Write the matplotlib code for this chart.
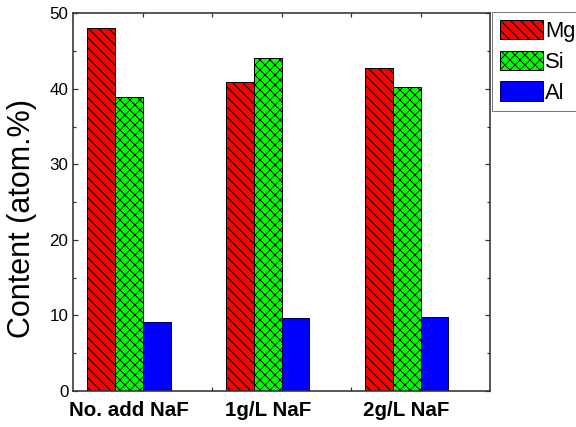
import matplotlib
matplotlib.use("Agg")
import matplotlib.pyplot as plt
import numpy as np
from matplotlib.ticker import FixedLocator, MultipleLocator

# ---- data ----
categories = ["No. add NaF", "1g/L NaF", "2g/L NaF"]
series_names = ["Mg", "Si", "Al"]
mg_values = [48.0, 40.9, 42.8]
si_values = [38.9, 44.1, 40.3]
al_values = [9.2, 9.7, 9.8]

DPI = 60
PT = 72.0 / DPI  # points per pixel

plt.rcParams['font.family'] = ['Liberation Sans', 'DejaVu Sans']
plt.rcParams['hatch.linewidth'] = 0.9 * PT

fig = plt.figure(figsize=(576 / DPI, 427 / DPI), dpi=DPI)
ax = fig.add_axes([73.3 / 576, 1 - 391 / 427, (490 - 73.3) / 576, (391 - 13.3) / 427])

x = np.arange(len(categories))
w = 0.2
vals = [mg_values, si_values, al_values]
faces = ['#FF0000', '#00FF00', '#0000FF']
edges = ['#000000', '#000000', '#00005A']
hatches = ['\\\\', 'xx', None]
for i, (v, name) in enumerate(zip(vals, series_names)):
    ax.bar(x + (i - 1) * w, v, width=w, color=faces[i], edgecolor=edges[i],
           hatch=hatches[i], linewidth=1.0 * PT, label=name, zorder=2)

ax.set_xlim(-0.4, 2.6)
ax.set_ylim(0, 50)
ax.set_axisbelow(True)

ax.set_xticks(x)
ax.set_xticklabels(categories, fontsize=20.5 * PT, fontweight='bold')
ax.xaxis.set_minor_locator(FixedLocator([0.1, 0.6, 1.1, 1.6, 2.1]))
ax.tick_params(axis='x', which='major', length=0, pad=10 * PT)
ax.tick_params(axis='x', which='minor', direction='in', length=4 * PT,
               width=1.2 * PT, top=True, bottom=True, color='#333333')

ax.yaxis.set_major_locator(MultipleLocator(10))
ax.yaxis.set_minor_locator(MultipleLocator(5))
ax.tick_params(axis='y', which='major', direction='in', length=5 * PT,
               width=1.2 * PT, left=True, right=True, labelsize=17 * PT,
               pad=5 * PT, color='#333333')
ax.tick_params(axis='y', which='minor', direction='in', length=3 * PT,
               width=1.2 * PT, left=True, right=True, color='#333333')

for s in ax.spines.values():
    s.set_color('#333333')
    s.set_linewidth(1.6 * PT)

ax.set_ylabel("Content (atom.%)", fontsize=30.5 * PT)
ax.yaxis.set_label_coords(-0.087, 0.458)

leg = ax.legend(loc='upper left', bbox_to_anchor=(492.3 / 576, 1 - 12.3 / 427),
                bbox_transform=fig.transFigure, borderaxespad=0,
                fontsize=22 * PT, handlelength=1.95, handleheight=1.0,
                handletextpad=0.12, labelspacing=0.38, borderpad=0.34,
                fancybox=False, frameon=True)
leg.get_frame().set_edgecolor('#555555')
leg.get_frame().set_linewidth(1.0 * PT)

fig.savefig("out.png", dpi=DPI)
